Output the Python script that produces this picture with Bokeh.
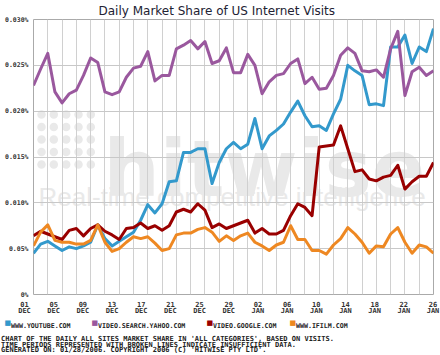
from bokeh.plotting import figure
from bokeh.layouts import column
from bokeh.models import Range1d, FixedTicker, Label
from bokeh.embed import file_html
from bokeh.resources import INLINE

# ---------------- data (market share in %, one value per day, 01 Dec .. 26 Jan) -------------
days = list(range(57))

youtube = [0.0045, 0.0055, 0.0058, 0.0053, 0.0048, 0.0052, 0.0050, 0.0053, 0.0057, 0.0076,
           0.0061, 0.0053, 0.0058, 0.0063, 0.0068, 0.0081, 0.0098, 0.0089, 0.0099, 0.0123,
           0.0124, 0.0155, 0.0155, 0.0159, 0.0159, 0.0121, 0.0144, 0.0159, 0.0166, 0.0159,
           0.0164, 0.0192, 0.0159, 0.0173, 0.0179, 0.0186, 0.0199, 0.0211, 0.0195, 0.0183,
           0.0184, 0.0179, 0.0197, 0.0213, 0.0250, 0.0244, 0.0239, 0.0207, 0.0208, 0.0206,
           0.0270, 0.0270, 0.0283, 0.0252, 0.0270, 0.0265, 0.0290]

yahoo = [0.0228, 0.0246, 0.0263, 0.0221, 0.0209, 0.0219, 0.0223, 0.0239, 0.0258, 0.0253,
         0.0221, 0.0218, 0.0221, 0.0237, 0.0247, 0.0249, 0.0265, 0.0233, 0.0239, 0.0239,
         0.0268, 0.0272, 0.0277, 0.0268, 0.0276, 0.0252, 0.0255, 0.0269, 0.0242, 0.0242,
         0.0262, 0.0250, 0.0219, 0.0232, 0.0239, 0.0241, 0.0252, 0.0257, 0.0230, 0.0237,
         0.0224, 0.0225, 0.0239, 0.0261, 0.0269, 0.0263, 0.0244, 0.0243, 0.0245, 0.0237,
         0.0268, 0.0287, 0.0217, 0.0243, 0.0248, 0.0239, 0.0244]

google = [0.0064, 0.0069, 0.0066, 0.0063, 0.0060, 0.0070, 0.0072, 0.0064, 0.0072, 0.0076,
          0.0069, 0.0065, 0.0060, 0.0072, 0.0073, 0.0078, 0.0072, 0.0075, 0.0070, 0.0075,
          0.0090, 0.0093, 0.0090, 0.0099, 0.0092, 0.0073, 0.0077, 0.0072, 0.0075, 0.0078,
          0.0081, 0.0067, 0.0072, 0.0066, 0.0066, 0.0070, 0.0086, 0.0099, 0.0095, 0.0086,
          0.0161, 0.0162, 0.0163, 0.0184, 0.0159, 0.0134, 0.0136, 0.0126, 0.0124, 0.0128,
          0.0130, 0.0141, 0.0115, 0.0123, 0.0129, 0.0129, 0.0144]

ifilm = [0.0053, 0.0068, 0.0076, 0.0059, 0.0057, 0.0057, 0.0055, 0.0055, 0.0059, 0.0076,
         0.0057, 0.0047, 0.0050, 0.0057, 0.0063, 0.0061, 0.0063, 0.0056, 0.0048, 0.0050,
         0.0065, 0.0067, 0.0067, 0.0071, 0.0073, 0.0068, 0.0058, 0.0064, 0.0059, 0.0064,
         0.0067, 0.0057, 0.0053, 0.0048, 0.0054, 0.0057, 0.0075, 0.0060, 0.0060, 0.0048,
         0.0048, 0.0044, 0.0054, 0.0061, 0.0073, 0.0066, 0.0057, 0.0045, 0.0053, 0.0052,
         0.0066, 0.0073, 0.0057, 0.0045, 0.0054, 0.0052, 0.0045]

series_names = ["WWW.YOUTUBE.COM", "VIDEO.SEARCH.YAHOO.COM", "VIDEO.GOOGLE.COM", "WWW.IFILM.COM"]
series_colors = ["#3399cc", "#9a589e", "#990000", "#ee8822"]

y_ticks = [0, 5, 10, 15, 20, 25, 30]          # in thousandths of a percent
y_tick_labels = ["0%", "0.05%", "0.010%", "0.015%", "0.020%", "0.025%", "0.030%"]

x_day_labels = ["01", "05", "09", "13", "17", "21", "25", "29",
                "02", "06", "10", "14", "18", "22", "26"]
x_month_labels = ["DEC"] * 8 + ["JAN"] * 7

title_text = "Daily Market Share of US Internet Visits"
footer_lines = [
    "CHART OF THE DAILY ALL SITES MARKET SHARE IN 'ALL CATEGORIES', BASED ON VISITS.",
    "TIME PERIODS REPRESENTED WITH BROKEN LINES INDICATE INSUFFICIENT DATA.",
    "GENERATED ON: 01/28/2006. COPYRIGHT 2006 (C) 'HITWISE PTY LTD'.",
]

SCALE = 1000  # plot values as thousandths of a percent

# ---------------- layout constants (canvas pixels) ----------------
W, H = 440, 355
F_LEFT, F_RIGHT, F_TOP, F_BOTTOM = 33, 433, 19, 294
MAIN_H = 298               # main figure height; the rest is the caption strip
CAP_H = H - MAIN_H
TITLE_LEFT = 98


def sx(px):  # canvas px -> frame-relative screen x (main figure)
    return px - F_LEFT


def sy(py):  # canvas px -> frame-relative screen y (main figure)
    return F_BOTTOM - py


def cy(py):  # canvas px -> screen y in caption strip (from its bottom)
    return H - py


def dx(px):  # canvas px -> data x (day)
    return (px - F_LEFT) / (F_RIGHT - F_LEFT) * (days[-1] - days[0]) + days[0]


def dy(py):  # canvas px -> data y
    return (F_BOTTOM - py) / (F_BOTTOM - F_TOP) * y_ticks[-1]


mono = "DejaVu Sans Mono"

p = figure(width=W, height=MAIN_H, output_backend="svg", toolbar_location=None,
           x_range=Range1d(days[0], days[-1]), y_range=Range1d(y_ticks[0], y_ticks[-1]),
           min_border_left=F_LEFT, min_border_right=W - F_RIGHT,
           min_border_top=F_TOP, min_border_bottom=MAIN_H - F_BOTTOM)
p.background_fill_color = "white"
p.border_fill_color = "white"
p.outline_line_color = "#aaaaaa"
p.outline_line_width = 1

# title
p.title.text = title_text
p.title.text_font = "DejaVu Sans"
p.title.text_font_size = "12px"
p.title.text_font_style = "normal"
p.title.text_color = "#222233"
p.title.align = "left"
p.title.offset = TITLE_LEFT - F_LEFT
p.title.vertical_align = "top"
p.title.standoff = 0

# axes
p.xaxis.visible = False
yax = p.yaxis[0]
yax.ticker = FixedTicker(ticks=y_ticks)
yax.major_label_overrides = {t: lab for t, lab in zip(y_ticks, y_tick_labels)}
yax.axis_line_color = None
yax.major_tick_line_color = None
yax.minor_tick_line_color = None
yax.major_tick_out = 0
yax.major_tick_in = 0
yax.major_label_standoff = 5
yax.major_label_text_font = mono
yax.major_label_text_font_style = "bold"
yax.major_label_text_font_size = "6.5px"
yax.major_label_text_color = "#333333"

# grid
p.ygrid.ticker = FixedTicker(ticks=y_ticks)
p.ygrid.grid_line_color = "#c8c8c8"
p.xgrid.ticker = FixedTicker(ticks=days[::2])
p.xgrid.grid_line_color = "#d0d0d0"

# watermark (logo) beneath grid
wm = "#e9e9e9"
dot_px = [41, 53.3, 65.7, 78, 90.3]
dot_py = [114, 126.5, 139, 151.5, 164]
p.scatter([dx(a) for b in dot_py for a in dot_px], [dy(b) for b in dot_py for a in dot_px],
          size=8.5, color=wm, line_color=None, level="image")
p.add_layout(Label(x=sx(103), y=sy(168), x_units="screen", y_units="screen", text="hitwise",
                   text_font="DejaVu Sans", text_font_style="bold", text_font_size="79px",
                   text_color=wm, text_baseline="alphabetic", level="image"))
p.add_layout(Label(x=sx(38), y=sy(196), x_units="screen", y_units="screen",
                   text="Real-time competitive intelligence",
                   text_font="Liberation Sans", text_font_size="26px",
                   text_color=wm, text_baseline="alphabetic", level="image"))

# series
for vals, col in zip([youtube, yahoo, google, ifilm], series_colors):
    p.line(days, [v * SCALE for v in vals], line_width=3, color=col, line_join="round")

# ---------------- caption strip: x labels, legend, footer ----------------
c = figure(width=W, height=CAP_H, output_backend="svg", toolbar_location=None,
           x_axis_location=None, y_axis_location=None,
           x_range=Range1d(dx(0), dx(W)), y_range=Range1d(0, CAP_H),
           min_border_left=0, min_border_right=0, min_border_top=0, min_border_bottom=0)
c.background_fill_color = "white"
c.border_fill_color = "white"
c.outline_line_color = None
c.grid.visible = False

for fig in (p, c):
    try:
        fig.frame_align = False
    except Exception:
        pass

first_c, last_c = F_LEFT - 9, F_RIGHT - 0.5
step = (last_c - first_c) / (len(x_day_labels) - 1)
for i, (d, m) in enumerate(zip(x_day_labels, x_month_labels)):
    xc = dx(first_c + step * i)
    c.add_layout(Label(x=xc, y=cy(303.5), y_units="screen", text=d,
                       text_font=mono, text_font_style="bold", text_font_size="7px",
                       text_color="#333333", text_align="center", text_baseline="alphabetic"))
    c.add_layout(Label(x=xc, y=cy(310.5), y_units="screen", text=m,
                       text_font=mono, text_font_style="bold", text_font_size="7px",
                       text_color="#333333", text_align="center", text_baseline="alphabetic"))

leg_sq_x = [4, 91, 206, 289]
for name, col, lx in zip(series_names, series_colors, leg_sq_x):
    c.add_layout(Label(x=lx, y=cy(322.5), x_units="screen", y_units="screen", text="■",
                       text_font="DejaVu Sans", text_font_size="7px", text_color=col,
                       text_baseline="middle"))
    c.add_layout(Label(x=lx + 6.5, y=cy(325.5), x_units="screen", y_units="screen", text=name,
                       text_font=mono, text_font_style="bold", text_font_size="6.6px",
                       text_color="#222222", text_baseline="alphabetic"))

for i, line in enumerate(footer_lines):
    c.add_layout(Label(x=0.5, y=cy(338.5 + 5.5 * i), x_units="screen", y_units="screen",
                       text=line, text_font=mono, text_font_style="bold",
                       text_font_size="7px", text_color="#222222", text_baseline="alphabetic"))

layout = column(p, c, spacing=0)
open("out.html", "w").write(file_html(layout, INLINE))
